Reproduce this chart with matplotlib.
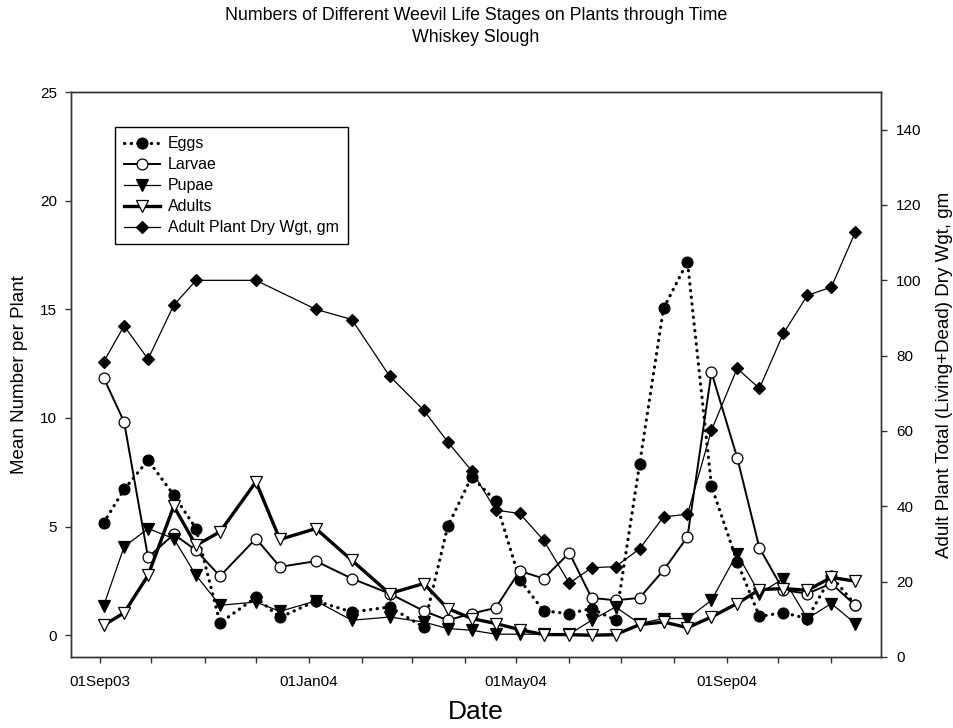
import numpy as np
import pandas as pd
import matplotlib
matplotlib.use("Agg")
import matplotlib.pyplot as plt
import matplotlib.dates as mdates

plt.rcParams['font.family'] = ['Liberation Sans', 'DejaVu Sans']

# ─── Data ────────────────────────────────────────────────────────────────────
sample_dates = [
    "2003-09-03", "2003-09-15", "2003-09-29", "2003-10-14", "2003-10-27",
    "2003-11-10", "2003-12-01", "2003-12-15", "2004-01-05", "2004-01-26",
    "2004-02-17", "2004-03-08", "2004-03-22", "2004-04-05", "2004-04-19",
    "2004-05-03", "2004-05-17", "2004-06-01", "2004-06-14", "2004-06-28",
    "2004-07-12", "2004-07-26", "2004-08-09", "2004-08-23", "2004-09-07",
    "2004-09-20", "2004-10-04", "2004-10-18", "2004-11-01", "2004-11-15",
]

eggs = [5.17, 6.71, 8.06, 6.45, 4.91, 0.57, 1.74, 0.82, 1.58, 1.07,
        1.30, 0.38, 5.02, 7.29, 6.18, 2.56, 1.12, 1.00, 1.23, 0.69,
        7.86, 15.04, 17.19, 6.87, 3.38, 0.87, 1.04, 0.77, 2.72, 1.40]

larvae = [11.86, 9.82, 3.58, 4.65, 3.91, 2.72, 4.45, 3.15, 3.41, 2.61,
          1.92, 1.12, 0.69, 1.00, 1.26, 2.96, 2.61, 3.79, 1.72, 1.61,
          1.72, 2.99, 4.53, 12.10, 8.18, 4.02, 2.07, 1.92, 2.38, 1.38]

pupae = [1.34, 4.07, 4.91, 4.45, 2.76, 1.38, 1.53, 1.10, 1.58, 0.69,
         0.84, 0.61, 0.31, 0.23, 0.05, 0.05, 0.05, 0.05, 0.69, 1.30,
         0.54, 0.77, 0.77, 1.61, 3.76, 1.92, 2.61, 0.77, 1.46, 0.54]

adults = [0.46, 1.03, 2.76, 5.94, 4.14, 4.76, 7.06, 4.41, 4.91, 3.45,
          1.92, 2.38, 1.23, 0.77, 0.54, 0.26, 0.03, 0.03, 0.00, 0.03,
          0.49, 0.61, 0.35, 0.84, 1.46, 2.10, 2.15, 2.07, 2.66, 2.49]

# plant weight was not recorded on every visit
plant_wgt = [78.3, 87.9, 79.1, 93.4, 100.0, None, 100.0, None, 92.3, 89.6,
             74.6, 65.5, 57.1, 49.4, 39.0, 38.1, 31.0, 19.6, 23.7, 24.0,
             28.7, 37.2, 37.9, 60.2, 76.6, 71.3, 85.9, 96.0, 98.2, 112.8]

dates = pd.to_datetime(sample_dates)
wgt = pd.Series(plant_wgt, index=dates, dtype=float).dropna()

# ─── Figure ──────────────────────────────────────────────────────────────────
fig = plt.figure(figsize=(9.54, 7.28), dpi=100)
ax = fig.add_axes([71 / 954, 1 - 657 / 728, 810 / 954, 565 / 728])
ax2 = ax.twinx()

mk = dict(markeredgecolor='black', markeredgewidth=0.9)
h_eggs, = ax.plot(dates, eggs, color='black', lw=2.3, linestyle=(0, (0.1, 2.0)),
                  dash_capstyle='round', marker='o', ms=7.8,
                  markerfacecolor='black', label='Eggs', **mk)
h_larv, = ax.plot(dates, larvae, color='black', lw=1.4, marker='o', ms=7.8,
                  markerfacecolor='white', label='Larvae', **mk)
h_pup, = ax.plot(dates, pupae, color='black', lw=0.9, marker='v', ms=8.2,
                 markerfacecolor='black', label='Pupae', **mk)
h_ad, = ax.plot(dates, adults, color='black', lw=2.4, marker='v', ms=8.2,
                markerfacecolor='white', label='Adults', **mk)
h_wgt, = ax2.plot(wgt.index, wgt.values, color='black', lw=0.9, marker='D',
                  ms=6.3, markerfacecolor='black', label='Adult Plant Dry Wgt, gm', **mk)

ax.set_xlim(pd.Timestamp("2003-08-15"), pd.Timestamp("2004-11-30"))
ax.set_ylim(-1.0, 25)
ax2.set_ylim(0, 150)

ax.set_yticks([0, 5, 10, 15, 20, 25])
ax2.set_yticks(np.arange(0, 141, 20))

ax.xaxis.set_major_locator(mdates.MonthLocator(bymonth=[1, 5, 9]))
ax.xaxis.set_major_formatter(mdates.DateFormatter('%d%b%y'))
ax.xaxis.set_minor_locator(mdates.MonthLocator())

for a in (ax, ax2):
    for s in a.spines.values():
        s.set_linewidth(1.0)
        s.set_color('#333333')

ax.tick_params(axis='x', which='both', direction='out', length=4, width=1,
               pad=9, labelsize=11, top=False, color='#333333')
ax.tick_params(axis='y', direction='out', length=4, width=1, pad=6,
               labelsize=11, color='#333333')
ax2.tick_params(axis='y', direction='out', length=4, width=1, pad=7,
                labelsize=11, color='#333333')

ax.set_xlabel('Date', fontsize=19, labelpad=8)
ax.set_ylabel('Mean Number per Plant', fontsize=13.5, labelpad=9)
ax2.set_ylabel('Adult Plant Total (Living+Dead) Dry Wgt, gm', fontsize=13.5, labelpad=10)

fig.text(0.499, 1 - 16 / 728, 'Numbers of Different Weevil Life Stages on Plants through Time',
         ha='center', va='center', fontsize=12.8)
fig.text(0.499, 1 - 37 / 728, 'Whiskey Slough', ha='center', va='center', fontsize=12.8)

leg = ax2.legend(handles=[h_eggs, h_larv, h_pup, h_ad, h_wgt], loc='upper left',
                 bbox_to_anchor=(0.054, 0.9375), borderaxespad=0, fontsize=11.5,
                 fancybox=False, edgecolor='black', framealpha=1, numpoints=1,
                 handlelength=2.3, handletextpad=0.5, labelspacing=0.38,
                 borderpad=0.55)
leg.get_frame().set_linewidth(1.0)

fig.savefig('out.png', dpi=100)
